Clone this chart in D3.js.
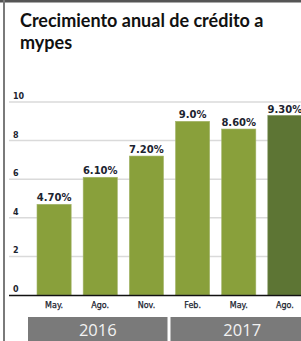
<!DOCTYPE html>
<html>
<head>
    <meta charset="UTF-8">
    <style>
        body { margin: 0; background: #fff; }
        svg { display: block; }
    </style>
</head>
<body>
    <div id="chart"></div>
    <script src="https://d3js.org/d3.v7.min.js"></script>
    <script>
        // chart data
        const months = ["May.", "Ago.", "Nov.", "Feb.", "May.", "Ago."];
        const years = ["2016", "2016", "2016", "2017", "2017", "2017"];
        const values = [4.7, 6.1, 7.2, 9.0, 8.6, 9.3];
        const valueLabels = ["4.70%", "6.10%", "7.20%", "9.0%", "8.60%", "9.30%"];
        const yTicks = [0, 2, 4, 6, 8, 10];
        const yearGroups = ["2016", "2017"];

        const width = 301, height = 341;
        const keys = months.map((m, i) => i);

        const svg = d3.select("#chart").append("svg")
            .attr("width", width)
            .attr("height", height);

        // frame lines
        svg.append("rect").attr("x", 0).attr("y", 0).attr("width", width).attr("height", 2.5).attr("fill", "#555");
        svg.append("rect").attr("x", 3).attr("y", 0).attr("width", 2).attr("height", height).attr("fill", "#7a7a7a");

        // title
        const title = svg.append("text")
            .style("font-family", "Lato, 'Open Sans', sans-serif")
            .style("font-weight", "bold")
            .style("font-size", "18px")
            .style("fill", "#111");
        title.append("tspan").attr("x", 20).attr("y", 27).text("Crecimiento anual de crédito a");
        title.append("tspan").attr("x", 20).attr("y", 49).text("mypes");

        const x = d3.scaleBand()
            .domain(keys)
            .range([31, 308])
            .paddingInner(0.26)
            .paddingOuter(0.13);

        const y = d3.scaleLinear()
            .domain([0, 10])
            .range([295, 102]);

        // gridlines
        svg.append("g")
            .selectAll("line")
            .data(yTicks.filter(d => d > 0))
            .enter().append("line")
            .attr("x1", 9)
            .attr("x2", width)
            .attr("y1", d => y(d))
            .attr("y2", d => y(d))
            .attr("stroke", "#dadada")
            .attr("stroke-width", 1.5);

        // y labels
        svg.append("g")
            .selectAll("text")
            .data(yTicks)
            .enter().append("text")
            .attr("x", 13)
            .attr("y", d => y(d) - 3)
            .style("font-family", "'DejaVu Sans', sans-serif")
            .style("font-weight", "bold")
            .style("font-size", "8px")
            .style("fill", "#1c2430")
            .text(d => d);

        // bars
        svg.append("g")
            .selectAll("rect")
            .data(keys)
            .enter().append("rect")
            .attr("x", i => x(i))
            .attr("y", i => y(values[i]))
            .attr("width", x.bandwidth())
            .attr("height", i => y(0) - y(values[i]))
            .attr("fill", i => i === keys.length - 1 ? "#5d7534" : "#89a03b")
            .attr("stroke", i => i === keys.length - 1 ? "#7a8f55" : "#a3b56a")
            .attr("stroke-width", 0.6);

        // baseline
        svg.append("line")
            .attr("x1", 9).attr("x2", width)
            .attr("y1", y(0) + 0.5).attr("y2", y(0) + 0.5)
            .attr("stroke", "#111")
            .attr("stroke-width", 1.5);

        // value labels
        svg.append("g")
            .selectAll("text")
            .data(keys)
            .enter().append("text")
            .attr("x", i => x(i) + x.bandwidth() / 2)
            .attr("y", i => y(values[i]) - 3)
            .attr("text-anchor", "middle")
            .style("font-family", "'DejaVu Sans', sans-serif")
            .style("font-weight", "bold")
            .style("font-size", "10px")
            .style("fill", "#1c2430")
            .text(i => valueLabels[i]);

        // month labels
        svg.append("g")
            .selectAll("text")
            .data(keys)
            .enter().append("text")
            .attr("x", i => x(i) + x.bandwidth() / 2)
            .attr("y", 308)
            .attr("text-anchor", "middle")
            .style("font-family", "'DejaVu Sans', sans-serif")
            .style("font-size", "8px")
            .style("stroke", "#1c2430")
            .style("stroke-width", 0.25)
            .style("fill", "#1c2430")
            .text(i => months[i]);

        // year boxes
        const gap = x.step() - x.bandwidth();
        yearGroups.forEach((yr, gi) => {
            const idx = keys.filter(i => years[i] === yr);
            const first = idx[0], last = idx[idx.length - 1];
            const x0 = gi === 0 ? x(first) - 9 : x(first) - gap / 2 + 1;
            const x1 = gi === 0 ? x(last) + x.bandwidth() + gap / 2 - 2 : x(last) + x.bandwidth() + 12;
            svg.append("rect")
                .attr("x", x0)
                .attr("y", 317)
                .attr("width", x1 - x0)
                .attr("height", 30)
                .attr("fill", "#7a7a7a");
            svg.append("text")
                .attr("x", (x0 + x1) / 2)
                .attr("y", 336)
                .attr("text-anchor", "middle")
                .style("font-family", "'Open Sans', sans-serif")
                .style("font-size", "16.5px")
                .style("fill", "#f2f2f2")
                .text(yr);
        });
    </script>
</body>
</html>
